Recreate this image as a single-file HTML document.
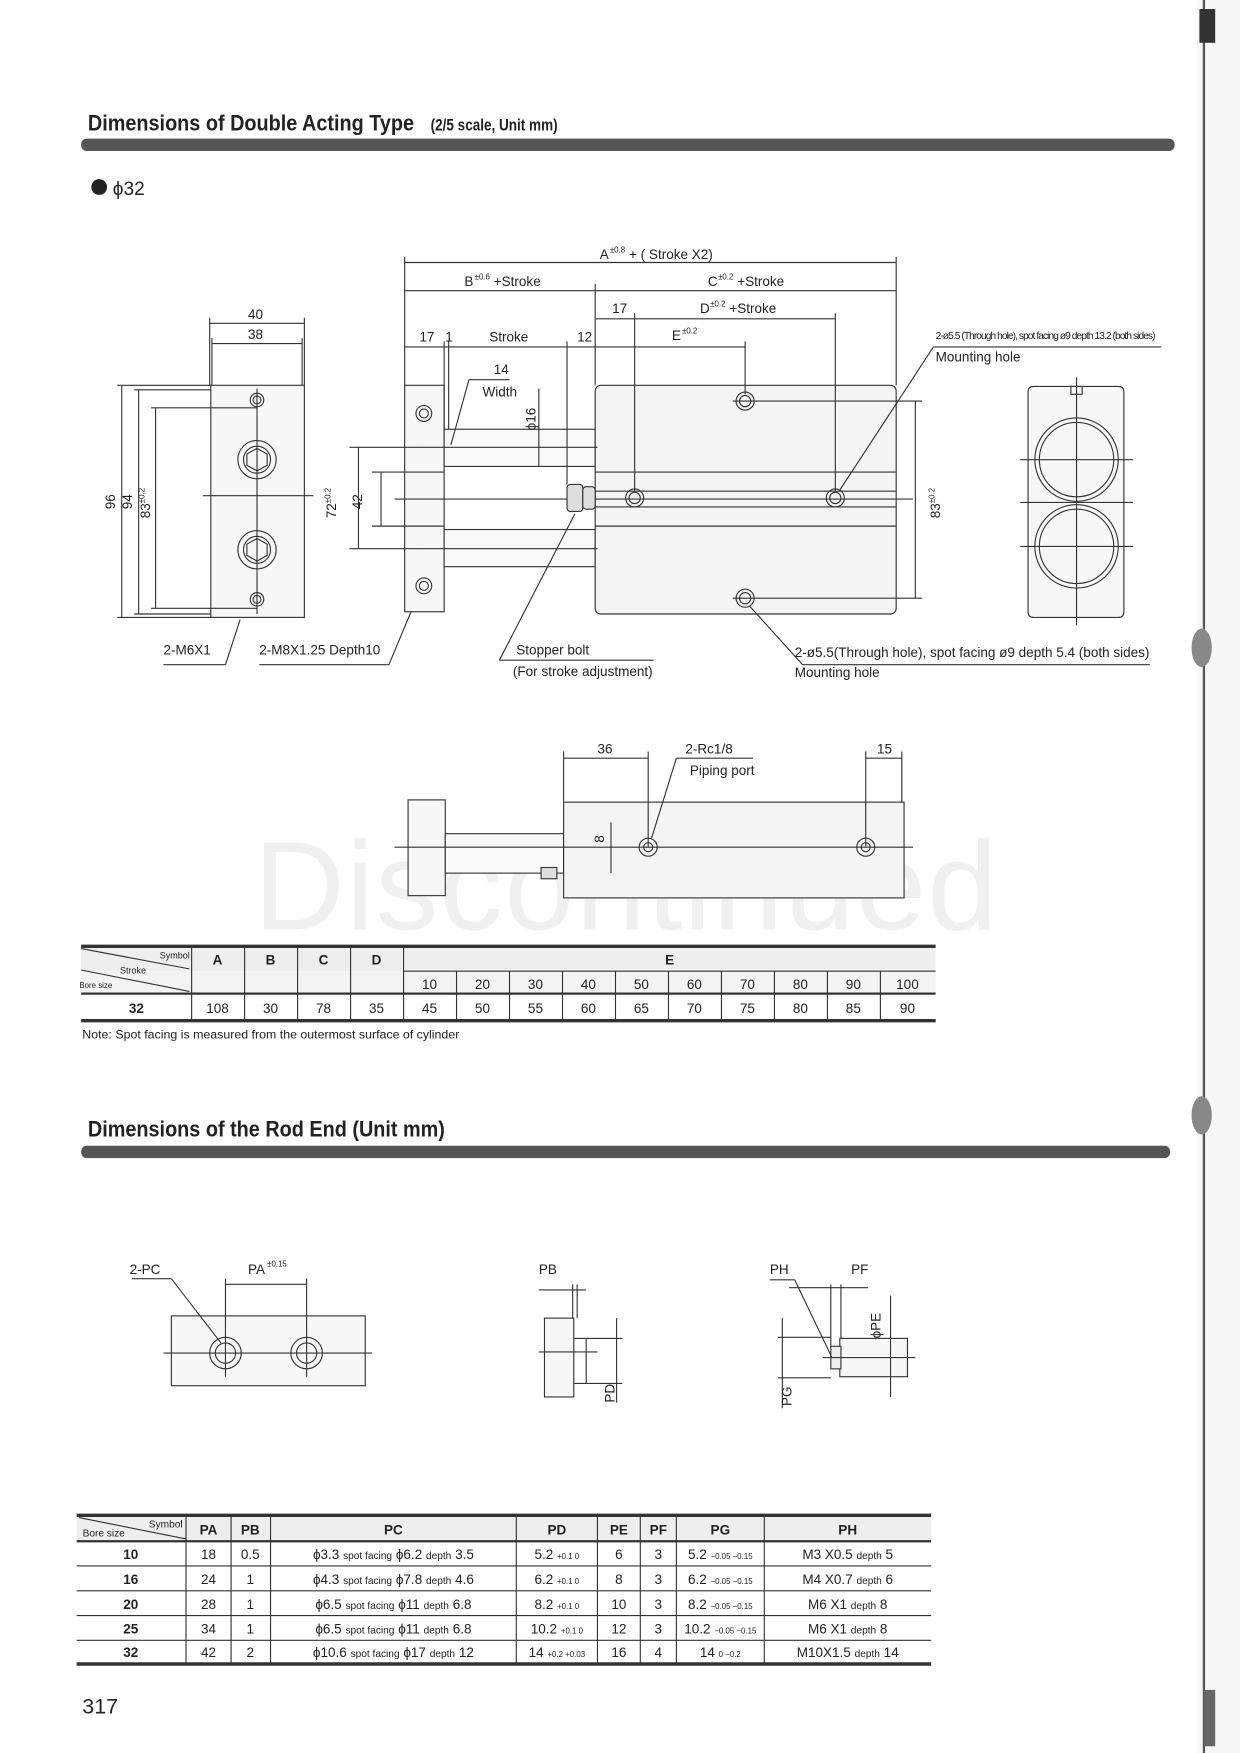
<!DOCTYPE html>
<html><head><meta charset="utf-8"><style>
html,body{margin:0;padding:0;background:#fff;}
svg{display:block;}
text{font-family:"Liberation Sans",sans-serif;fill:#222;}
</style></head><body>
<svg width="1240" height="1753" viewBox="0 0 1100 1556" preserveAspectRatio="none" xmlns="http://www.w3.org/2000/svg">
<rect width="1100" height="1556" fill="#fff"/>
<rect x="1062" y="0" width="38" height="1556" fill="#f7f7f7"/>
<line x1="1068" y1="0" x2="1068" y2="1556" stroke="#555" stroke-width="2"/>
<rect x="1064" y="8" width="14" height="30" fill="#333"/>
<rect x="1068" y="1500" width="10" height="50" fill="#666"/>
<ellipse cx="1066" cy="575" rx="9" ry="17" fill="#888"/>
<ellipse cx="1066" cy="990" rx="9" ry="17" fill="#888"/>
<text x="225" y="825" font-size="112" style="fill:#f0f0f0" textLength="660">Discontinued</text>

<text transform="translate(78,116) scale(0.88,1)" font-size="20" font-weight="bold">Dimensions of Double Acting Type</text>
<text transform="translate(382,116) scale(0.8,1)" font-size="15" font-weight="bold">(2/5 scale, Unit mm)</text>
<rect x="72" y="123" width="970" height="11" rx="5" fill="#555"/>
<circle cx="88" cy="166" r="7" fill="#222"/>
<text x="100" y="173" font-size="17">ϕ32</text>

<g stroke="#333" stroke-width="1" fill="none">
<rect x="187" y="342" width="83" height="206" fill="#f7f7f7"/>
<line x1="186" y1="287" x2="270" y2="287"/><line x1="188" y1="305" x2="268" y2="305"/>
<line x1="186" y1="282" x2="186" y2="342"/><line x1="270" y1="282" x2="270" y2="342"/>
<line x1="188" y1="300" x2="188" y2="342"/><line x1="268" y1="300" x2="268" y2="342"/>
<line x1="108" y1="342" x2="108" y2="548"/><line x1="123" y1="346" x2="123" y2="545"/><line x1="138" y1="362" x2="138" y2="540"/>
<line x1="104" y1="342" x2="187" y2="342"/><line x1="119" y1="346" x2="187" y2="346"/><line x1="134" y1="362" x2="228" y2="362"/>
<line x1="104" y1="548" x2="187" y2="548"/><line x1="119" y1="545" x2="187" y2="545"/><line x1="134" y1="540" x2="228" y2="540"/>
<line x1="180" y1="440" x2="278" y2="440"/><line x1="228" y1="345" x2="228" y2="545"/>
<circle cx="228" cy="355" r="6"/><circle cx="228" cy="355" r="3.5"/>
<circle cx="228" cy="408" r="17"/><circle cx="228" cy="408" r="12"/><polygon points="228,398 237,403 237,413 228,418 219,413 219,403"/>
<circle cx="228" cy="488" r="17"/><circle cx="228" cy="488" r="12"/><polygon points="228,478 237,483 237,493 228,498 219,493 219,483"/>
<circle cx="228" cy="532" r="6"/><circle cx="228" cy="532" r="3.5"/>
<line x1="145" y1="590" x2="200" y2="590"/><line x1="200" y1="590" x2="213" y2="550"/>
<line x1="230" y1="590" x2="345" y2="590"/><line x1="345" y1="590" x2="370" y2="530"/>

<rect x="359" y="342" width="35" height="201" fill="#f7f7f7"/>
<rect x="394" y="381" width="134" height="33" fill="#f9f9f9"/>
<rect x="394" y="470" width="134" height="33" fill="#f9f9f9"/>
<rect x="528" y="342" width="267" height="203" rx="5" fill="#f4f4f4"/>
<line x1="528" y1="419" x2="795" y2="419"/><line x1="528" y1="436" x2="795" y2="436"/><line x1="528" y1="450" x2="795" y2="450"/><line x1="528" y1="467" x2="795" y2="467"/>
<line x1="350" y1="443" x2="810" y2="443"/>
<line x1="370" y1="397" x2="530" y2="397"/><line x1="370" y1="487" x2="530" y2="487"/>
<rect x="503" y="430" width="14" height="24" rx="3" fill="#ddd"/><rect x="517" y="432" width="11" height="20" rx="3" fill="#ddd"/>
<circle cx="376" cy="367" r="7"/><circle cx="376" cy="367" r="4"/>
<circle cx="376" cy="520" r="7"/><circle cx="376" cy="520" r="4"/>
<circle cx="661" cy="356" r="8"/><circle cx="661" cy="356" r="5"/>
<circle cx="563" cy="442" r="8"/><circle cx="563" cy="442" r="5"/>
<circle cx="741" cy="442" r="8"/><circle cx="741" cy="442" r="5"/>
<circle cx="661" cy="531" r="8"/><circle cx="661" cy="531" r="5"/>
<line x1="650" y1="356" x2="818" y2="356"/><line x1="650" y1="531" x2="818" y2="531"/>
<line x1="359" y1="228" x2="359" y2="342"/><line x1="795" y1="228" x2="795" y2="342"/>
<line x1="528" y1="252" x2="528" y2="342"/><line x1="563" y1="278" x2="563" y2="436"/><line x1="741" y1="278" x2="741" y2="436"/>
<line x1="661" y1="303" x2="661" y2="350"/><line x1="394" y1="303" x2="394" y2="381"/><line x1="398" y1="303" x2="398" y2="381"/><line x1="503" y1="303" x2="503" y2="430"/>
<line x1="359" y1="233" x2="795" y2="233"/>
<line x1="359" y1="258" x2="795" y2="258"/>
<line x1="528" y1="283" x2="741" y2="283"/>
<line x1="359" y1="308" x2="661" y2="308"/>
<line x1="478" y1="345" x2="478" y2="414"/>
<line x1="318" y1="397" x2="318" y2="487"/><line x1="338" y1="419" x2="338" y2="467"/>
<line x1="310" y1="397" x2="370" y2="397"/><line x1="330" y1="419" x2="394" y2="419"/><line x1="330" y1="467" x2="394" y2="467"/><line x1="310" y1="487" x2="370" y2="487"/>
<line x1="812" y1="356" x2="812" y2="531"/>
<line x1="416" y1="337" x2="452" y2="337"/><line x1="416" y1="337" x2="400" y2="395"/>
<line x1="828" y1="308" x2="1030" y2="308"/><line x1="828" y1="308" x2="745" y2="435"/>
<line x1="443" y1="586" x2="580" y2="586"/><line x1="443" y1="586" x2="510" y2="456"/>
<line x1="712" y1="590" x2="1020" y2="590"/><line x1="712" y1="590" x2="665" y2="538"/>

<path d="M912 348 q0 -5 5 -5 h75 q5 0 5 5 v195 q0 5 -5 5 h-75 q-5 0 -5 -5 z" fill="#f7f7f7"/>
<rect x="950" y="343" width="10" height="7"/>
<circle cx="955" cy="408" r="37"/><circle cx="955" cy="408" r="33"/>
<circle cx="955" cy="485" r="37"/><circle cx="955" cy="485" r="33"/>
<line x1="905" y1="408" x2="1005" y2="408"/><line x1="905" y1="485" x2="1005" y2="485"/><line x1="905" y1="446" x2="1005" y2="446"/>
<line x1="955" y1="335" x2="955" y2="555"/>

<rect x="362" y="710" width="33" height="85" fill="#f7f7f7"/>
<rect x="395" y="740" width="105" height="35" fill="#f9f9f9"/>
<rect x="500" y="712" width="302" height="85" fill="#f4f4f4"/>
<rect x="480" y="770" width="14" height="10" fill="#ddd"/>
<line x1="350" y1="752" x2="810" y2="752"/>
<circle cx="575" cy="752" r="8"/><circle cx="575" cy="752" r="4"/>
<circle cx="768" cy="752" r="8"/><circle cx="768" cy="752" r="4"/>
<line x1="500" y1="667" x2="500" y2="712"/><line x1="575" y1="667" x2="575" y2="752"/><line x1="768" y1="667" x2="768" y2="752"/><line x1="800" y1="667" x2="800" y2="712"/>
<line x1="500" y1="673" x2="575" y2="673"/><line x1="768" y1="673" x2="800" y2="673"/>
<line x1="542" y1="730" x2="542" y2="775"/>
<line x1="600" y1="673" x2="668" y2="673"/><line x1="600" y1="673" x2="578" y2="744"/>
</g>
<g font-size="12">
<text x="532" y="230">A</text><text x="541" y="224" font-size="7">±0.8</text><text x="558" y="230">+ ( Stroke X2)</text>
<text x="412" y="254">B</text><text x="421" y="248" font-size="7">±0.6</text><text x="438" y="254">+Stroke</text>
<text x="628" y="254">C</text><text x="637" y="248" font-size="7">±0.2</text><text x="654" y="254">+Stroke</text>
<text x="543" y="278">17</text>
<text x="621" y="278">D</text><text x="630" y="272" font-size="7">±0.2</text><text x="647" y="278">+Stroke</text>
<text x="372" y="303">17</text><text x="395" y="303">1</text><text x="434" y="303">Stroke</text><text x="512" y="303">12</text>
<text x="596" y="302">E</text><text x="605" y="296" font-size="7">±0.2</text>
<text x="220" y="283">40</text><text x="220" y="301">38</text>
<text x="438" y="332">14</text><text x="428" y="352">Width</text>
<text x="830" y="301" font-size="9" textLength="195">2-ø5.5 (Through hole), spot facing ø9 depth 13.2 (both sides)</text>
<text x="830" y="321">Mounting hole</text>
<text x="145" y="581">2-M6X1</text><text x="230" y="581">2-M8X1.25 Depth10</text>
<text x="458" y="581">Stopper bolt</text><text x="455" y="600">(For stroke adjustment)</text>
<text x="705" y="583">2-ø5.5(Through hole), spot facing ø9 depth 5.4 (both sides)</text>
<text x="705" y="601">Mounting hole</text>
<text x="530" y="669">36</text><text x="608" y="669">2-Rc1/8</text><text x="612" y="688">Piping port</text><text x="778" y="669">15</text>
<text transform="translate(102,452) rotate(-90)">96</text>
<text transform="translate(117,452) rotate(-90)">94</text>
<text transform="translate(133,460) rotate(-90)">83<tspan font-size="7" dy="-5">±0.2</tspan></text>
<text transform="translate(298,460) rotate(-90)">72<tspan font-size="7" dy="-5">±0.2</tspan></text>
<text transform="translate(321,452) rotate(-90)">42</text>
<text transform="translate(475,382) rotate(-90)">ϕ16</text>
<text transform="translate(834,460) rotate(-90)">83<tspan font-size="7" dy="-5">±0.2</tspan></text>
<text transform="translate(536,748) rotate(-90)">8</text>
</g>

<g stroke="#333" fill="none">
<rect x="72" y="841" width="758" height="21" fill="#eee" stroke="none"/>
<rect x="72" y="862" width="758" height="20" fill="#f3f3f3" stroke="none"/>
<line x1="72" y1="840" x2="830" y2="840" stroke-width="3"/>
<line x1="358" y1="862" x2="830" y2="862"/>
<line x1="72" y1="882" x2="830" y2="882" stroke-width="2"/>
<line x1="72" y1="906" x2="830" y2="906" stroke-width="3"/>
<line x1="72" y1="842" x2="168" y2="860"/><line x1="72" y1="861" x2="168" y2="880"/>
<path d="M170 840V906M217 840V906M264 840V906M311 840V906M358 840V906M405 862V906M452 862V906M499 862V906M546 862V906M593 862V906M640 862V906M687 862V906M734 862V906M781 862V906"/>
</g>
<g font-size="12" text-anchor="middle">
<text x="155" y="851" font-size="8">Symbol</text><text x="118" y="864" font-size="8">Stroke</text><text x="85" y="877" font-size="7">Bore size</text>
<text x="193" y="856" font-weight="bold">A</text><text x="240" y="856" font-weight="bold">B</text><text x="287" y="856" font-weight="bold">C</text><text x="334" y="856" font-weight="bold">D</text><text x="594" y="856" font-weight="bold">E</text>
<text x="381" y="878">10</text><text x="428" y="878">20</text><text x="475" y="878">30</text><text x="522" y="878">40</text><text x="569" y="878">50</text><text x="616" y="878">60</text><text x="663" y="878">70</text><text x="710" y="878">80</text><text x="757" y="878">90</text><text x="805" y="878">100</text>
<text x="121" y="899" font-weight="bold">32</text><text x="193" y="899">108</text><text x="240" y="899">30</text><text x="287" y="899">78</text><text x="334" y="899">35</text>
<text x="381" y="899">45</text><text x="428" y="899">50</text><text x="475" y="899">55</text><text x="522" y="899">60</text><text x="569" y="899">65</text><text x="616" y="899">70</text><text x="663" y="899">75</text><text x="710" y="899">80</text><text x="757" y="899">85</text><text x="805" y="899">90</text>
</g>
<text x="73" y="922" font-size="11">Note:  Spot facing  is  measured  from the outermost surface of cylinder</text>

<text transform="translate(78,1009) scale(0.88,1)" font-size="20" font-weight="bold">Dimensions of the Rod End (Unit mm)</text>
<rect x="72" y="1017" width="966" height="11" rx="5" fill="#555"/>

<g stroke="#333" fill="none">
<rect x="152" y="1168" width="172" height="62" fill="#f7f7f7"/>
<line x1="145" y1="1201" x2="330" y2="1201"/>
<circle cx="200" cy="1201" r="14"/><circle cx="200" cy="1201" r="9"/><line x1="200" y1="1180" x2="200" y2="1222"/>
<circle cx="272" cy="1201" r="14"/><circle cx="272" cy="1201" r="9"/><line x1="272" y1="1180" x2="272" y2="1222"/>
<line x1="200" y1="1135" x2="200" y2="1180"/><line x1="272" y1="1135" x2="272" y2="1180"/><line x1="200" y1="1140" x2="272" y2="1140"/>
<line x1="117" y1="1135" x2="152" y2="1135"/><line x1="152" y1="1135" x2="196" y2="1192"/>
<rect x="483" y="1170" width="26" height="70" fill="#f7f7f7"/>
<path d="M509 1188H520V1228H509"/>
<line x1="478" y1="1200" x2="530" y2="1200"/>
<line x1="508" y1="1140" x2="508" y2="1170"/><line x1="512" y1="1140" x2="512" y2="1170"/><line x1="478" y1="1145" x2="520" y2="1145"/>
<line x1="520" y1="1188" x2="552" y2="1188"/><line x1="520" y1="1228" x2="552" y2="1228"/><line x1="547" y1="1170" x2="547" y2="1245"/>
<rect x="745" y="1188" width="60" height="34" fill="#f7f7f7"/>
<rect x="737" y="1195" width="9" height="20" fill="#eee"/>
<line x1="730" y1="1205" x2="812" y2="1205"/>
<line x1="737" y1="1140" x2="737" y2="1195"/><line x1="746" y1="1140" x2="746" y2="1188"/><line x1="700" y1="1143" x2="770" y2="1143"/>
<line x1="683" y1="1136" x2="705" y2="1136"/><line x1="705" y1="1136" x2="738" y2="1205"/>
<line x1="790" y1="1150" x2="790" y2="1240"/>
<line x1="690" y1="1187" x2="737" y2="1187"/><line x1="690" y1="1223" x2="737" y2="1223"/><line x1="694" y1="1170" x2="694" y2="1250"/>
</g>
<g font-size="12">
<text x="115" y="1131">2-PC</text><text x="220" y="1131">PA</text><text x="237" y="1124" font-size="7">±0.15</text>
<text x="478" y="1131">PB</text><text x="683" y="1131">PH</text><text x="755" y="1131">PF</text>
<text transform="translate(545,1245) rotate(-90)">PD</text>
<text transform="translate(702,1248) rotate(-90)">PG</text>
<text transform="translate(781,1188) rotate(-90)">ϕPE</text>
</g>

<g stroke="#333" fill="none">
<rect x="68" y="1346" width="758" height="22" fill="#eee" stroke="none"/>
<line x1="68" y1="1345" x2="826" y2="1345" stroke-width="3"/>
<line x1="68" y1="1368" x2="826" y2="1368" stroke-width="2"/>
<line x1="68" y1="1390" x2="826" y2="1390"/><line x1="68" y1="1412" x2="826" y2="1412"/><line x1="68" y1="1434" x2="826" y2="1434"/><line x1="68" y1="1456" x2="826" y2="1456"/>
<line x1="68" y1="1477" x2="826" y2="1477" stroke-width="3"/>
<line x1="70" y1="1347" x2="165" y2="1366"/>
<path d="M165 1345V1477M205 1345V1477M240 1345V1477M458 1345V1477M530 1345V1477M568 1345V1477M600 1345V1477M678 1345V1477"/>
</g>
<g font-size="12" text-anchor="middle">
<text x="147" y="1356" font-size="9">Symbol</text><text x="92" y="1364" font-size="9">Bore size</text>
<text x="185" y="1362" font-weight="bold">PA</text><text x="222" y="1362" font-weight="bold">PB</text><text x="349" y="1362" font-weight="bold">PC</text><text x="494" y="1362" font-weight="bold">PD</text><text x="549" y="1362" font-weight="bold">PE</text><text x="584" y="1362" font-weight="bold">PF</text><text x="639" y="1362" font-weight="bold">PG</text><text x="752" y="1362" font-weight="bold">PH</text>
<text x="116" y="1384" font-weight="bold">10</text><text x="116" y="1406" font-weight="bold">16</text><text x="116" y="1428" font-weight="bold">20</text><text x="116" y="1450" font-weight="bold">25</text><text x="116" y="1471" font-weight="bold">32</text>
<text x="185" y="1384">18</text><text x="185" y="1406">24</text><text x="185" y="1428">28</text><text x="185" y="1450">34</text><text x="185" y="1471">42</text>
<text x="222" y="1384">0.5</text><text x="222" y="1406">1</text><text x="222" y="1428">1</text><text x="222" y="1450">1</text><text x="222" y="1471">2</text>
<text x="349" y="1384">ϕ3.3  <tspan font-size="9">spot facing</tspan> ϕ6.2  <tspan font-size="9">depth</tspan> 3.5</text>
<text x="349" y="1406">ϕ4.3  <tspan font-size="9">spot facing</tspan> ϕ7.8  <tspan font-size="9">depth</tspan> 4.6</text>
<text x="349" y="1428">ϕ6.5  <tspan font-size="9">spot facing</tspan> ϕ11  <tspan font-size="9">depth</tspan> 6.8</text>
<text x="349" y="1450">ϕ6.5  <tspan font-size="9">spot facing</tspan> ϕ11  <tspan font-size="9">depth</tspan> 6.8</text>
<text x="349" y="1471">ϕ10.6 <tspan font-size="9">spot facing</tspan> ϕ17  <tspan font-size="9">depth</tspan> 12</text>
<text x="494" y="1384">5.2 <tspan font-size="7">+0.1 0</tspan></text>
<text x="494" y="1406">6.2 <tspan font-size="7">+0.1 0</tspan></text>
<text x="494" y="1428">8.2 <tspan font-size="7">+0.1 0</tspan></text>
<text x="494" y="1450">10.2 <tspan font-size="7">+0.1 0</tspan></text>
<text x="494" y="1471">14 <tspan font-size="7">+0.2 +0.03</tspan></text>
<text x="549" y="1384">6</text><text x="549" y="1406">8</text><text x="549" y="1428">10</text><text x="549" y="1450">12</text><text x="549" y="1471">16</text>
<text x="584" y="1384">3</text><text x="584" y="1406">3</text><text x="584" y="1428">3</text><text x="584" y="1450">3</text><text x="584" y="1471">4</text>
<text x="639" y="1384">5.2 <tspan font-size="7">−0.05 −0.15</tspan></text>
<text x="639" y="1406">6.2 <tspan font-size="7">−0.05 −0.15</tspan></text>
<text x="639" y="1428">8.2 <tspan font-size="7">−0.05 −0.15</tspan></text>
<text x="639" y="1450">10.2 <tspan font-size="7">−0.05 −0.15</tspan></text>
<text x="639" y="1471">14 <tspan font-size="7">0 −0.2</tspan></text>
<text x="752" y="1384">M3 X0.5 <tspan font-size="9">depth</tspan> 5</text>
<text x="752" y="1406">M4 X0.7 <tspan font-size="9">depth</tspan> 6</text>
<text x="752" y="1428">M6 X1   <tspan font-size="9">depth</tspan> 8</text>
<text x="752" y="1450">M6 X1   <tspan font-size="9">depth</tspan> 8</text>
<text x="752" y="1471">M10X1.5 <tspan font-size="9">depth</tspan> 14</text>
</g>
<text x="73" y="1521" font-size="19">317</text>
</svg>
</body></html>
